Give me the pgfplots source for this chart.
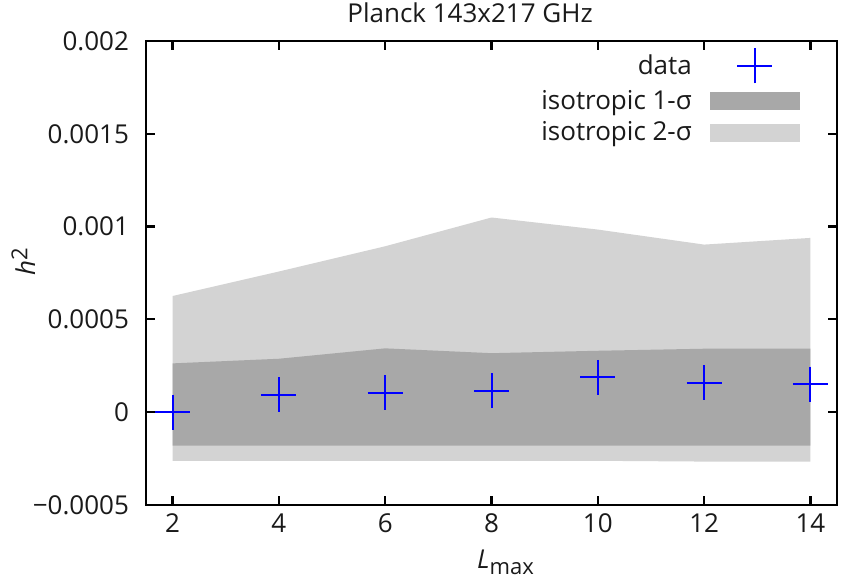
\documentclass[border=0pt]{standalone}
\usepackage{fontspec}
\setmainfont{Open Sans}
\usepackage{pgfplots}
\pgfplotsset{compat=1.18}
\definecolor{sigone}{RGB}{168,168,168}
\definecolor{sigtwo}{RGB}{211,211,211}
\definecolor{txt}{RGB}{26,26,26}
\begin{document}
\begin{tikzpicture}[font=\fontsize{13}{15}\selectfont, text=txt]
\begin{axis}[
  scale only axis, width=345.5pt, height=232pt,
  xmin=1.5, xmax=14.5, ymin=-0.0005, ymax=0.002,
  xtick={2,4,6,8,10,12,14},
  ytick={-0.0005,0,0.0005,0.001,0.0015,0.002},
  yticklabels={−0.0005,0,0.0005,0.001,0.0015,0.002},
  scaled y ticks=false,
  /pgf/number format/assume math mode=true,
  yticklabel style={xshift=-5pt},
  xticklabel style={yshift=-1pt},
  tick align=inside, tick pos=both,
  major tick length=4.5pt,
  axis line style={line width=1.1pt, black},
  every tick/.style={black, line width=1.1pt},
  xlabel={\textit{L}\raisebox{-0.45ex}{\fontsize{11}{12}\selectfont max}},
  xlabel style={at={(axis description cs:0.469,0)}, anchor=base west, yshift=-31.5pt},
  ylabel={\textit{h}\raisebox{0.55ex}{\fontsize{11}{12}\selectfont 2}},
  ylabel style={at={(axis description cs:-0.1606,0.524)}, rotate=0, anchor=base},
  legend style={draw=none, fill=none, at={(axis description cs:1,1)}, anchor=north east,
    xshift=-15.5pt, yshift=-1pt, legend cell align=right, row sep=0.8pt,
    nodes={inner sep=2pt},
    /tikz/every odd column/.append style={column sep=7pt}},
  legend plot pos=right,
]
% 2-sigma band
\addplot[fill=sigtwo, draw=none, forget plot] coordinates {
  (2,0.000626) (4,0.000758) (6,0.000894) (8,0.001049) (10,0.000984) (12,0.000903) (14,0.000939)
  (14,-0.000266) (12,-0.000266) (10,-0.000262) (8,-0.000262) (6,-0.000262) (4,-0.000262) (2,-0.000262)
} -- cycle;
% 1-sigma band
\addplot[fill=sigone, draw=none, forget plot] coordinates {
  (2,0.000263) (4,0.000288) (6,0.000344) (8,0.000318) (10,0.000331) (12,0.000342) (14,0.000342)
  (14,-0.00018) (12,-0.00018) (10,-0.00018) (8,-0.00018) (6,-0.00018) (4,-0.00018) (2,-0.00018)
} -- cycle;
% data
\addplot[blue, only marks, mark=+, mark size=8.75pt, mark options={line width=1pt}, forget plot] coordinates {
  (2,0.0) (4,0.000095) (6,0.000105) (8,0.000115) (10,0.000187) (12,0.00016) (14,0.000151)
};
\addlegendimage{legend image code/.code={
  \path[draw=none, fill=none] (0pt,-8.75pt) rectangle (44.5pt,8.75pt);
  \draw[blue, line width=1pt] (13.5pt,0pt) -- (31pt,0pt) (22.25pt,-8.75pt) -- (22.25pt,8.75pt);}}
\addlegendentry{data}
\addlegendimage{legend image code/.code={
  \fill[sigone] (0pt,-4.25pt) rectangle (44.5pt,4.25pt);}}
\addlegendentry{isotropic 1-σ}
\addlegendimage{legend image code/.code={
  \fill[sigtwo] (0pt,-4.25pt) rectangle (44.5pt,4.25pt);}}
\addlegendentry{isotropic 2-σ}
\end{axis}
\node[anchor=base] at ([xshift=162pt,yshift=9pt]current axis.north west) {Planck 143x217 GHz};
\pgfresetboundingbox
\path ([xshift=-73pt,yshift=-38.5pt]current axis.south west) rectangle ([xshift=3pt,yshift=20.5pt]current axis.north east);
\end{tikzpicture}
\end{document}
